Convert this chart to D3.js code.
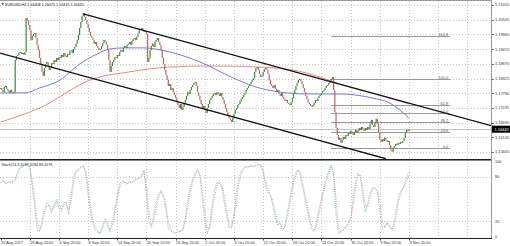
<!DOCTYPE html>
<html>
<head>
<meta charset="utf-8">
<script src="https://cdn.jsdelivr.net/npm/d3@7"></script>
<style>
  body { margin: 0; background: #fff; }
  svg { display: block; font-family: "Liberation Sans", Arial, sans-serif; }
</style>
</head>
<body>
<svg></svg>
<script>
const width = 510;
const height = 246;

const symbolTitle = 'EURUSD,H4  1.16408 1.16475 1.16415 1.16445';
const stochTitle = 'Stoch(14,3,3) 87.4284 83.4176';

const timeLabels = ['23 Aug 2017', '29 Aug 20:00', '4 Sep 20:00', '8 Sep 20:00', '14 Sep 20:00',
  '20 Sep 20:00', '26 Sep 20:00', '2 Oct 20:00', '6 Oct 20:00', '12 Oct 20:00', '18 Oct 20:00',
  '24 Oct 20:00', '30 Oct 20:00', '3 Nov 20:00', '9 Nov 20:00'];
const timeLabelBars = [0, 24, 48, 72, 96, 120, 144, 168, 192, 216, 240, 264, 288, 312, 336];
const gridBars = [24, 48, 72, 96, 120, 144, 168, 192, 216, 240, 264, 288, 312, 336, 360, 384];

const priceTicks = [1.21050, 1.20505, 1.19960, 1.19415, 1.18870, 1.18325, 1.17780, 1.17235, 1.16690, 1.16145, 1.15600];
const stochTicks = [100, 80, 20, 0];
const stochGrid = [80, 20];

// H4 closes, one per bar
const firstOpen = 1.1795;
const closes = [
  1.1797,1.1790,1.1782,1.1801,1.1805,1.1794,1.1786,1.1779,
  1.1790,1.1782,1.1779,1.1782,1.1901,1.1916,1.1920,1.1927,
  1.1931,1.1923,1.1927,1.1920,1.1931,1.2057,1.2049,1.2031,
  1.2012,1.1975,1.1990,1.1998,1.2001,1.1983,1.1957,1.1938,
  1.1909,1.1883,1.1857,1.1842,1.1871,1.1886,1.1894,1.1879,
  1.1864,1.1871,1.1890,1.1886,1.1901,1.1894,1.1909,1.1901,
  1.1912,1.1909,1.1920,1.1912,1.1927,1.1916,1.1912,1.1923,
  1.1920,1.1935,1.1938,1.1927,1.1942,1.1949,1.1961,1.1975,
  1.1994,1.2020,1.2042,1.2064,1.2075,1.2061,1.2049,1.2035,
  1.2020,1.2005,1.1990,1.1983,1.1975,1.1961,1.1968,1.1953,
  1.1946,1.1938,1.1942,1.1953,1.1964,1.1975,1.1968,1.1957,
  1.1938,1.1901,1.1857,1.1879,1.1894,1.1901,1.1912,1.1909,
  1.1920,1.1916,1.1931,1.1938,1.1931,1.1946,1.1953,1.1946,
  1.1957,1.1961,1.1968,1.1957,1.1972,1.1979,1.1983,1.1975,
  1.1986,1.1998,1.2012,1.2016,1.2020,1.2012,1.2005,1.2009,
  1.1998,1.1894,1.1909,1.1938,1.1953,1.1961,1.1949,1.1968,
  1.1975,1.1983,1.1968,1.1957,1.1938,1.1909,1.1886,1.1864,
  1.1846,1.1827,1.1805,1.1812,1.1790,1.1797,1.1782,1.1771,
  1.1760,1.1745,1.1734,1.1723,1.1738,1.1716,1.1727,1.1738,
  1.1753,1.1768,1.1782,1.1775,1.1790,1.1801,1.1808,1.1816,
  1.1820,1.1805,1.1782,1.1768,1.1753,1.1738,1.1723,1.1731,
  1.1716,1.1705,1.1723,1.1738,1.1753,1.1760,1.1768,1.1775,
  1.1779,1.1771,1.1782,1.1775,1.1768,1.1779,1.1764,1.1753,
  1.1738,1.1723,1.1708,1.1697,1.1686,1.1679,1.1671,1.1686,
  1.1701,1.1716,1.1723,1.1734,1.1738,1.1749,1.1757,1.1764,
  1.1771,1.1779,1.1790,1.1797,1.1805,1.1812,1.1820,1.1827,
  1.1834,1.1857,1.1871,1.1875,1.1864,1.1849,1.1838,1.1842,
  1.1857,1.1868,1.1871,1.1864,1.1849,1.1827,1.1812,1.1805,
  1.1797,1.1808,1.1794,1.1782,1.1790,1.1775,1.1768,1.1779,
  1.1764,1.1757,1.1749,1.1753,1.1742,1.1738,1.1734,1.1745,
  1.1760,1.1775,1.1790,1.1805,1.1816,1.1827,1.1831,1.1823,
  1.1812,1.1797,1.1782,1.1768,1.1757,1.1745,1.1738,1.1731,
  1.1727,1.1734,1.1742,1.1753,1.1749,1.1760,1.1768,1.1771,
  1.1779,1.1786,1.1790,1.1797,1.1805,1.1808,1.1816,1.1823,
  1.1831,1.1838,1.1790,1.1708,1.1649,1.1623,1.1605,1.1612,
  1.1594,1.1605,1.1616,1.1608,1.1623,1.1619,1.1631,1.1627,
  1.1638,1.1631,1.1623,1.1634,1.1642,1.1631,1.1638,1.1649,
  1.1642,1.1653,1.1645,1.1638,1.1649,1.1642,1.1653,1.1645,
  1.1664,1.1679,1.1660,1.1653,1.1668,1.1683,1.1664,1.1631,
  1.1605,1.1597,1.1608,1.1601,1.1612,1.1605,1.1597,1.1601,
  1.1586,1.1568,1.1561,1.1575,1.1582,1.1590,1.1586,1.1594,
  1.1590,1.1597,1.1594,1.1601,1.1612,1.1631,1.1642,1.1638,
  1.16445
];
const bid = 1.16445;

// moving averages, read at a few bars
const maFast = [[0,1.1779],[20,1.1779],[32,1.1797],[49,1.1827],[65,1.1886],[78,1.1920],[90,1.1942],
  [102,1.1946],[117,1.1946],[139,1.1931],[164,1.1894],[195,1.1827],[213,1.1797],[236,1.1779],
  [255,1.1775],[279,1.1775],[306,1.1760],[320,1.1742],[336,1.1686]];
const maSlow = [[0,1.1671],[32,1.1723],[76,1.1831],[106,1.1857],[139,1.1875],[172,1.1879],
  [213,1.1875],[246,1.1859],[257,1.1846],[279,1.1812],[312,1.1771],[336,1.1738]];

const channelUpper = [[68, 1.2072], [403.5, 1.1658]];
const channelLower = [[-0.5, 1.1927], [317, 1.1535]];

const fibLevels = [0, 23.6, 38.2, 50, 61.8, 100, 161.8];
const fibLabels = ['0.0', '23.6', '38.2', '50.0', '61.8', '100.0', '161.8'];
const fibZero = 1.1575;
const fibHundred = 1.1831;
const fibBars = [272, 370];

// stochastic %K and %D, every 2 bars
const stochK = [72,75,70,74,72,73,76,87,92,95,96,97,91,68,38,10,6,20,36,45,
  40,32,42,50,38,34,45,46,30,55,80,88,90,93,95,84,55,32,16,8,
  5,4,15,24,14,6,20,36,55,71,75,72,70,74,72,75,77,79,82,89,
  55,20,12,28,45,56,62,52,36,10,7,5,4,8,6,10,25,48,65,76,
  85,90,80,50,22,3,14,40,62,72,72,65,46,28,12,12,30,58,78,88,
  92,94,93,95,94,95,97,95,85,68,58,55,42,25,15,18,8,15,33,50,
  68,82,89,87,70,54,38,22,10,6,20,36,50,66,78,88,96,80,30,3,
  6,9,13,18,24,50,74,85,80,55,32,44,58,66,65,60,35,11,12,18,
  13,8,20,42,56,62,68,78,87];
const stochD = [72,74,72,72,73,73,75,82,90,94,96,97,93,77,50,22,8,14,30,41,
  42,35,38,47,43,36,41,46,36,45,70,85,89,92,94,88,67,41,22,11,
  6,4,11,20,18,9,14,30,47,65,73,73,71,72,73,74,76,78,80,86,
  69,34,15,22,38,52,60,56,42,20,8,6,4,6,7,8,19,39,58,72,
  81,88,84,62,33,11,10,30,53,68,72,68,54,35,18,12,23,47,70,84,
  90,93,93,94,94,95,96,96,89,75,62,56,47,32,19,17,12,12,26,43,
  61,76,86,88,77,60,44,28,15,8,14,30,44,60,73,84,93,86,50,14,
  5,8,11,16,22,40,64,81,82,65,41,39,52,63,65,62,45,21,12,16,
  15,10,15,33,50,60,66,74,83];

const svg = d3.select('svg')
  .attr('width', width)
  .attr('height', height);

const plotRight = 491;
const mainTop = 1, mainBottom = 159;
const subTop = 160, subBottom = 238;

const x = d3.scaleLinear().domain([-0.5, 403.5]).range([0, plotRight]);
const y = d3.scaleLinear().domain([1.15600, 1.21050]).range([152, 5]);
const ys = d3.scaleLinear().domain([0, 100]).range([236.3, 161.8]);

svg.append('defs').append('clipPath').attr('id', 'mainClip')
  .append('rect').attr('x', 0).attr('y', mainTop).attr('width', plotRight).attr('height', mainBottom - mainTop);

// grid
const grid = svg.append('g').attr('stroke', '#c8c8c8').attr('stroke-dasharray', '1,2').attr('shape-rendering', 'crispEdges');
grid.selectAll('.gy').data(priceTicks).enter().append('line')
  .attr('x1', 0).attr('x2', plotRight)
  .attr('y1', d => Math.round(y(d)) + 0.5).attr('y2', d => Math.round(y(d)) + 0.5);
grid.selectAll('.gs').data(stochGrid).enter().append('line')
  .attr('x1', 0).attr('x2', plotRight)
  .attr('y1', d => Math.round(ys(d)) + 0.5).attr('y2', d => Math.round(ys(d)) + 0.5);
grid.selectAll('.gx').data(gridBars).enter().append('line')
  .attr('x1', d => Math.round(x(d)) + 0.5).attr('x2', d => Math.round(x(d)) + 0.5)
  .attr('y1', mainTop).attr('y2', mainBottom);
grid.selectAll('.gx2').data(gridBars).enter().append('line')
  .attr('x1', d => Math.round(x(d)) + 0.5).attr('x2', d => Math.round(x(d)) + 0.5)
  .attr('y1', subTop).attr('y2', subBottom);

const main = svg.append('g').attr('clip-path', 'url(#mainClip)');

// bid line
main.append('line')
  .attr('x1', 0).attr('x2', plotRight)
  .attr('y1', Math.round(y(bid)) + 0.5).attr('y2', Math.round(y(bid)) + 0.5)
  .attr('stroke', '#c4c4c4').attr('stroke-width', 1);

// fibonacci
const fibPrice = lv => fibZero + lv / 100 * (fibHundred - fibZero);
main.selectAll('.fib').data(fibLevels).enter().append('line')
  .attr('x1', x(fibBars[0])).attr('x2', x(fibBars[1]))
  .attr('y1', d => Math.round(y(fibPrice(d))) + 0.5).attr('y2', d => Math.round(y(fibPrice(d))) + 0.5)
  .attr('stroke', '#9a9a9a').attr('stroke-width', 1);
main.selectAll('.fibt').data(fibLevels).enter().append('text')
  .attr('x', x(fibBars[1]) - 2).attr('y', d => Math.round(y(fibPrice(d))) - 0.3)
  .attr('text-anchor', 'end').attr('font-size', 4).attr('fill', '#555')
  .text((d, i) => fibLabels[i]);

// moving averages
const maLine = d3.line().x(d => x(d[0])).y(d => y(d[1])).curve(d3.curveMonotoneX);
main.append('path').attr('d', maLine(maSlow)).attr('fill', 'none').attr('stroke', '#e48888').attr('stroke-width', 1);
main.append('path').attr('d', maLine(maFast)).attr('fill', 'none').attr('stroke', '#7a7ada').attr('stroke-width', 1);

// candles
const candles = closes.map((c, i) => ({ i, o: i === 0 ? firstOpen : closes[i - 1], c }));
main.selectAll('.cdl').data(candles).enter().append('rect')
  .attr('x', d => x(d.i) - 0.6)
  .attr('width', 1.2)
  .attr('y', d => y(Math.max(d.o, d.c)))
  .attr('height', d => Math.max(1, Math.abs(y(d.o) - y(d.c))))
  .attr('fill', d => d.c >= d.o ? '#3a8a3a' : '#b06a6a');

// channel
const chLine = d3.line().x(d => x(d[0])).y(d => y(d[1]));
[channelUpper, channelLower].forEach(ch => {
  main.append('path').attr('d', chLine(ch)).attr('fill', 'none')
    .attr('stroke', '#111').attr('stroke-width', 1.3);
});

// panel frames
const frame = svg.append('g').attr('stroke', '#9a9a9a').attr('shape-rendering', 'crispEdges');
frame.append('line').attr('x1', 0).attr('x2', plotRight).attr('y1', 0.5).attr('y2', 0.5);
frame.append('line').attr('x1', plotRight + 0.5).attr('x2', plotRight + 0.5).attr('y1', 0).attr('y2', subBottom);
svg.append('line').attr('x1', 0).attr('x2', plotRight).attr('y1', mainBottom + 0.5).attr('y2', mainBottom + 0.5)
  .attr('stroke', '#222').attr('shape-rendering', 'crispEdges');
svg.append('line').attr('x1', 0).attr('x2', plotRight).attr('y1', subTop + 0.5).attr('y2', subTop + 0.5)
  .attr('stroke', '#888').attr('shape-rendering', 'crispEdges');
svg.append('line').attr('x1', 0).attr('x2', plotRight + 1).attr('y1', subBottom + 0.5).attr('y2', subBottom + 0.5)
  .attr('stroke', '#222').attr('shape-rendering', 'crispEdges');

// stochastic
const stLine = d3.line().x((d, i) => x(i * 2)).y(d => ys(d));
svg.append('path').attr('d', stLine(stochD)).attr('fill', 'none')
  .attr('stroke', '#e08080').attr('stroke-width', 0.8).attr('stroke-dasharray', '1,1.5');
svg.append('path').attr('d', stLine(stochK)).attr('fill', 'none')
  .attr('stroke', '#58b8b0').attr('stroke-width', 0.8).attr('stroke-dasharray', '1,1');

// price axis
const axisText = svg.append('g').attr('font-size', 3.9).attr('fill', '#333');
axisText.selectAll('.pt').data(priceTicks).enter().append('text')
  .attr('x', plotRight + 4).attr('y', d => y(d) + 1.4).text(d => d.toFixed(5));
svg.selectAll('.ptk').data(priceTicks).enter().append('line')
  .attr('x1', plotRight).attr('x2', plotRight + 3)
  .attr('y1', d => Math.round(y(d)) + 0.5).attr('y2', d => Math.round(y(d)) + 0.5)
  .attr('stroke', '#777');
axisText.selectAll('.st').data(stochTicks).enter().append('text')
  .attr('x', plotRight + 4).attr('y', d => ys(d) + 1.4).text(d => d);

// bid box
svg.append('rect').attr('x', plotRight + 1).attr('y', y(bid) - 3.5).attr('width', width - plotRight - 1).attr('height', 7).attr('fill', '#000');
svg.append('text').attr('x', plotRight + 3.5).attr('y', y(bid) + 1.4)
  .attr('font-size', 3.9).attr('fill', '#fff').text(bid.toFixed(5));

// time axis
axisText.selectAll('.tl').data(timeLabels).enter().append('text')
  .attr('x', (d, i) => x(timeLabelBars[i]) + 0.5).attr('y', 243.5).text(d => d);
svg.selectAll('.ttk').data(timeLabelBars).enter().append('line')
  .attr('x1', d => Math.round(x(d)) + 0.5).attr('x2', d => Math.round(x(d)) + 0.5)
  .attr('y1', subBottom).attr('y2', subBottom + 2.5).attr('stroke', '#555');

// titles
svg.append('path').attr('d', 'M1,3.3 L4,3.3 L2.5,5.3 Z').attr('fill', '#444');
svg.append('text').attr('x', 5).attr('y', 5.6).attr('font-size', 3.7).attr('fill', '#222').text(symbolTitle);
svg.append('text').attr('x', 1.5).attr('y', 166).attr('font-size', 3.7).attr('fill', '#222').text(stochTitle);
</script>
</body>
</html>
